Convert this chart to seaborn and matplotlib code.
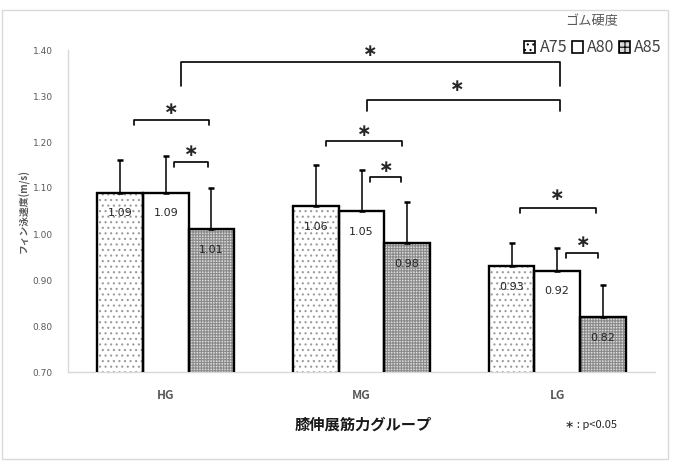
"""Fin swimming speed by knee-extension strength group and rubber hardness."""
import matplotlib
matplotlib.use('Agg')
from matplotlib import pyplot as plt
from matplotlib.patches import Patch, Rectangle
import numpy as np
import pandas as pd
import seaborn as sns

groups = ['HG', 'MG', 'LG']
hardness = ['A75', 'A80', 'A85']
mean_a75 = [1.09, 1.06, 0.93]
mean_a80 = [1.09, 1.05, 0.92]
mean_a85 = [1.01, 0.98, 0.82]
sd_a75 = [0.07, 0.09, 0.05]
sd_a80 = [0.08, 0.09, 0.05]
sd_a85 = [0.09, 0.09, 0.07]
yticks = [0.70, 0.80, 0.90, 1.00, 1.10, 1.20, 1.30, 1.40]

# significance brackets: x0, x1, top, leg bottom, star x, star y
brackets = [
    (0.077, 2.015, 1.374, 1.322, 1.046, 1.398),
    (1.026, 2.015, 1.291, 1.267, 1.490, 1.322),
    (-0.165, 0.221, 1.248, 1.236, 0.026, 1.272),
    (0.042, 0.213, 1.157, 1.145, 0.128, 1.180),
    (0.820, 1.208, 1.203, 1.191, 1.015, 1.224),
    (1.041, 1.202, 1.125, 1.113, 1.128, 1.145),
    (1.811, 2.198, 1.057, 1.046, 2.000, 1.085),
    (2.044, 2.211, 0.959, 0.948, 2.131, 0.982),
]

means = [mean_a75, mean_a80, mean_a85]
sds = [sd_a75, sd_a80, sd_a85]
hatches = ['...', '', '++++++']
hatch_cols = ['#9a9a9a', '#ffffff', '#8a8a8a']
faces = ['white', 'white', '#dadada']


def main():
    sns.set_style('white')
    plt.rcParams['font.family'] = ['Noto Sans CJK JP', 'DejaVu Sans']
    plt.rcParams['hatch.linewidth'] = 0.8

    df = pd.DataFrame({
        'group': np.repeat([groups], 3, axis=0).ravel(),
        'hardness': np.repeat(hardness, 3),
        'speed': np.concatenate(means),
    })

    fig = plt.figure(figsize=(6.74, 4.67), dpi=100)
    ax = fig.add_axes([68 / 674, 1 - 372 / 467, 587 / 674, 322 / 467])
    sns.barplot(data=df, x='group', y='speed', hue='hardness',
                hue_order=hardness, order=groups, palette=faces,
                width=0.7, errorbar=None, legend=False, ax=ax)

    bar_containers = list(ax.containers)
    for i, cont in enumerate(bar_containers):
        xs = []
        for p in cont.patches:
            p.set_hatch(hatches[i])
            p.set_edgecolor(hatch_cols[i])
            p.set_linewidth(0)
            ax.add_patch(Rectangle(p.get_xy(), p.get_width(), p.get_height(),
                                   fill=False, ec='black', lw=1.7, zorder=3))
            xs.append(p.get_x() + p.get_width() / 2)
        ax.errorbar(xs, means[i], yerr=[[0] * 3, sds[i]], fmt='none',
                    ecolor='black', elinewidth=1.1, capsize=2.5, capthick=1.8,
                    zorder=4)
        for x, m in zip(xs, means[i]):
            ax.text(x, m - 0.045, '{:.2f}'.format(m), ha='center', va='center',
                    fontsize=8, color='#262626', family='DejaVu Sans', zorder=5)

    for x0, x1, top, bot, sx, sy in brackets:
        ax.plot([x0, x0, x1, x1], [bot, top, top, bot], color='black',
                lw=1.2, clip_on=False, zorder=5)
        ax.text(sx, sy, '\u2217', ha='center', va='center', fontsize=12.5,
                fontweight='bold', family='DejaVu Sans', clip_on=False)

    ax.set_xlim(-0.5, 2.5)
    ax.set_ylim(0.70, 1.40)
    ax.set_yticks(yticks)
    ax.set_yticklabels(['{:.2f}'.format(t) for t in yticks], fontsize=6.5,
                       color='#595959', family='DejaVu Sans')
    ax.tick_params(axis='y', length=0, pad=11)
    ax.tick_params(axis='x', length=0, pad=12)
    for lab in ax.get_xticklabels():
        lab.set_fontsize(8.5)
        lab.set_fontweight('bold')
        lab.set_color('#595959')
    ax.set_xlabel('')
    ax.set_ylabel('フィン泳速度(m/s)', fontsize=7, fontweight='bold',
                  color='#595959')
    ax.yaxis.set_label_coords(-0.066, 0.5)
    for side in ['top', 'right']:
        ax.spines[side].set_visible(False)
    for side in ['left', 'bottom']:
        ax.spines[side].set_color('#d9d9d9')
        ax.spines[side].set_linewidth(1)

    fig.text(363 / 674, 1 - 425 / 467, '膝伸展筋力グループ', ha='center',
             va='center', fontsize=11, fontweight='bold', color='#1a1a1a')
    fig.text(565 / 674, 1 - 425 / 467, '\u2217 : p<0.05', ha='left',
             va='center', fontsize=8, color='#262626')
    fig.text(618 / 674, 1 - 22 / 467, 'ゴム硬度', ha='right', va='center',
             fontsize=9.5, color='#595959')

    handles = [Patch(facecolor=f, edgecolor='black', hatch=h, lw=1.2)
               for f, h in zip(faces, ['...', '', '+++'])]
    fig.legend(handles, hardness, loc='center right', ncol=3,
               bbox_to_anchor=(662 / 674, 1 - 48 / 467), frameon=False,
               fontsize=11.5, handlelength=0.7, handleheight=0.7,
               handletextpad=0.25, columnspacing=0.3, borderaxespad=0,
               borderpad=0, labelcolor='#404040')

    fig.patches.append(Rectangle((2 / 674, 8 / 467), 666 / 674, 449 / 467,
                                 transform=fig.transFigure, fill=False,
                                 ec='#d9d9d9', lw=1))
    fig.savefig('out.png', dpi=100)


if __name__ == '__main__':
    main()
